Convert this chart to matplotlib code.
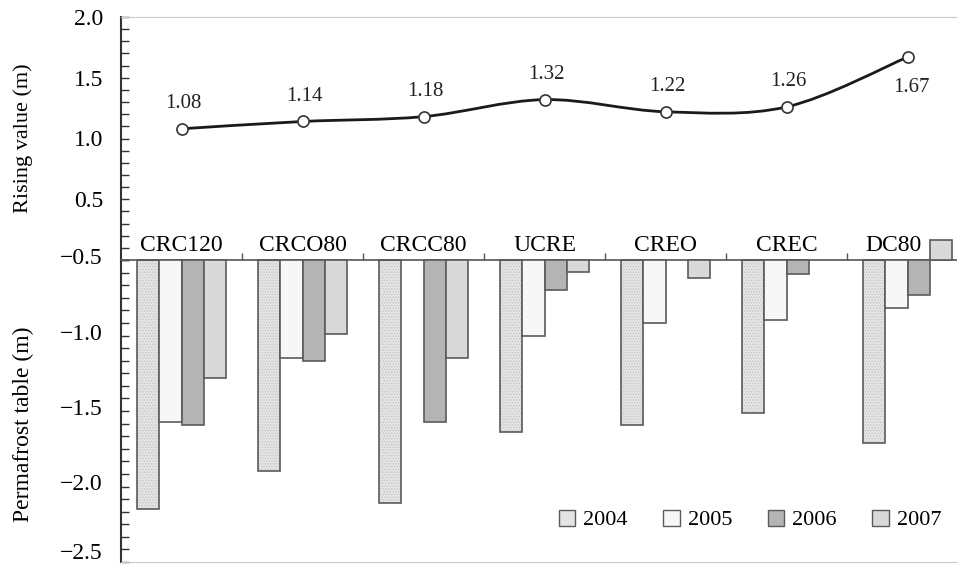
import matplotlib
matplotlib.use("Agg")
import matplotlib.pyplot as plt
import numpy as np
from matplotlib.patches import Patch, PathPatch
from matplotlib.path import Path
from matplotlib.ticker import FixedLocator, MultipleLocator
from matplotlib.transforms import ScaledTranslation

# Data
sites = ["CRC120", "CRCO80", "CRCC80", "UCRE", "CREO", "CREC", "DC80"]
rising = [1.08, 1.14, 1.18, 1.32, 1.22, 1.26, 1.67]
years = ["2004", "2005", "2006", "2007"]
table_2004 = [-2.15, -1.90, -2.11, -1.64, -1.59, -1.51, -1.71]
table_2005 = [-1.57, -1.15, np.nan, -1.00, -0.92, -0.90, -0.82]
table_2006 = [-1.59, -1.17, -1.57, -0.70, np.nan, -0.59, -0.73]
table_2007 = [-1.28, -0.99, -1.15, -0.58, -0.62, np.nan, -0.37]

plt.rcParams["font.family"] = ["Liberation Serif", "DejaVu Serif"]
plt.rcParams["hatch.linewidth"] = 0.6

W, H = 957, 567
fig = plt.figure(figsize=(W / 100, H / 100), dpi=100)
fig.set_facecolor("white")

left = 121 / W
width = (968 - 121) / W
ax_top = fig.add_axes([left, (H - 260) / H, width, (260 - 17) / H])
ax_bot = fig.add_axes([left, (H - 562) / H, width, (562 - 260) / H])

x = np.arange(len(sites))
spine_dark = "#333333"
light_line = "#c8c8c8"
tick_fs = 17

# ---- top panel: rising value, smoothed line ----
ax_top.set_xlim(-0.5, len(sites) - 0.5)
ax_top.set_ylim(0, 2.0)
pts = np.column_stack([x, rising]).astype(float)
ext = np.vstack([pts[0], pts, pts[-1]])
verts = [tuple(pts[0])]
codes = [Path.MOVETO]
for i in range(len(pts) - 1):
    p0, p1, p2, p3 = ext[i], ext[i + 1], ext[i + 2], ext[i + 3]
    c1 = p1 + (p2 - p0) / 6
    c2 = p2 - (p3 - p1) / 6
    verts += [tuple(c1), tuple(c2), tuple(p2)]
    codes += [Path.CURVE4] * 3
ax_top.add_patch(PathPatch(Path(verts, codes), facecolor="none",
                           edgecolor="#1a1a1a", lw=2, zorder=2))
ax_top.plot(x, rising, "o", ms=8, mfc="white", mec="#333333", mew=1.2, zorder=3)

for i, v in enumerate(rising):
    if i == len(rising) - 1:
        ax_top.annotate(f"{v:.2f}", (i, v), xytext=(3, -22), textcoords="offset points",
                        ha="center", va="center", fontsize=15, color="#222222")
    else:
        ax_top.annotate(f"{v:.2f}", (i, v), xytext=(1.5, 18), textcoords="offset points",
                        ha="center", va="center", fontsize=15, color="#222222")

ax_top.set_yticks([0.5, 1.0, 1.5, 2.0])
ax_top.yaxis.set_minor_locator(MultipleLocator(0.1))
ax_top.set_xticks([])
ax_top.tick_params(axis="y", which="both", direction="in", length=6, width=1,
                   color=spine_dark, labelsize=tick_fs, pad=13)
for s in ["right", "bottom"]:
    ax_top.spines[s].set_visible(False)
ax_top.spines["top"].set_color(light_line)
ax_top.spines["left"].set_color(spine_dark)
ax_top.spines["left"].set_linewidth(1.5)
ax_top.patch.set_alpha(0)

# ---- bottom panel: permafrost table bars ----
ax_bot.set_xlim(-0.5, len(sites) - 0.5)
ax_bot.set_ylim(-2.5, -0.5)
base = -0.5
bw = 0.183
series = [table_2004, table_2005, table_2006, table_2007]
faces = ["#e4e4e4", "#f7f7f7", "#b4b4b4", "#d9d9d9"]
edge = "#5a5a5a"
for k, (vals, fc) in enumerate(zip(series, faces)):
    xs = x + (k - 1.5) * bw
    h = np.array(vals) + 0.5
    if k == 0:
        ax_bot.bar(xs, h, bw, bottom=base, color=fc, hatch="......",
                   edgecolor="#c4c4c4", lw=0, clip_on=False, zorder=2)
        ax_bot.bar(xs, h, bw, bottom=base, facecolor="none",
                   edgecolor=edge, lw=1.2, clip_on=False, zorder=3)
    else:
        ax_bot.bar(xs, h, bw, bottom=base, color=fc,
                   edgecolor=edge, lw=1.2, clip_on=False, zorder=3)

ax_bot.set_yticks([-0.5, -1.0, -1.5, -2.0, -2.5])
ax_bot.yaxis.set_minor_locator(FixedLocator(np.linspace(-2.5, -0.5, 25)))
ax_bot.tick_params(axis="y", which="both", direction="in", length=6, width=1,
                   color=spine_dark, labelsize=tick_fs, pad=13)
ylabels = ax_bot.get_yticklabels()
for j, lab in enumerate(ylabels):
    up = 11 if j == len(ylabels) - 1 else 4
    lab.set_transform(lab.get_transform()
                      + ScaledTranslation(0, up / 100, fig.dpi_scale_trans))

ax_bot.xaxis.set_ticks_position("top")
ax_bot.set_xticks(x[:-1] + 0.5)
ax_bot.set_xticklabels([])
ax_bot.set_xticks(x, minor=True)
ax_bot.set_xticklabels(sites, minor=True)
ax_bot.tick_params(axis="x", which="major", direction="out", length=5, width=1,
                   color="#555555")
ax_bot.tick_params(axis="x", which="minor", length=0, labelsize=17, pad=3,
                   labeltop=True, labelbottom=False)
# last label sits left of the protruding 2007 bar
last = ax_bot.xaxis.get_minor_ticks()[-1].label2
last.set_transform(last.get_transform()
                   + ScaledTranslation(-14 / 100, 0, fig.dpi_scale_trans))
ax_bot.spines["right"].set_visible(False)
ax_bot.spines["top"].set_color("#555555")
ax_bot.spines["top"].set_linewidth(1.2)
ax_bot.spines["bottom"].set_color(light_line)
ax_bot.spines["left"].set_color(spine_dark)
ax_bot.spines["left"].set_linewidth(1.5)
ax_bot.patch.set_alpha(0)

handles = [Patch(facecolor=fc, edgecolor=edge, lw=1) for fc in faces]
fig.legend(handles, years, loc="center", bbox_to_anchor=(750 / W, 1 - 520 / H),
           bbox_transform=fig.transFigure, ncol=4, frameon=False, fontsize=16,
           handlelength=0.75, handleheight=0.75, handletextpad=0.35,
           columnspacing=1.6)

fig.text(23 / W, 1 - 138 / H, "Rising value (m)", rotation=90, ha="center",
         va="center", fontsize=16)
fig.text(23 / W, 1 - 424 / H, "Permafrost table (m)", rotation=90, ha="center",
         va="center", fontsize=17)

fig.savefig("out.png", dpi=100)
